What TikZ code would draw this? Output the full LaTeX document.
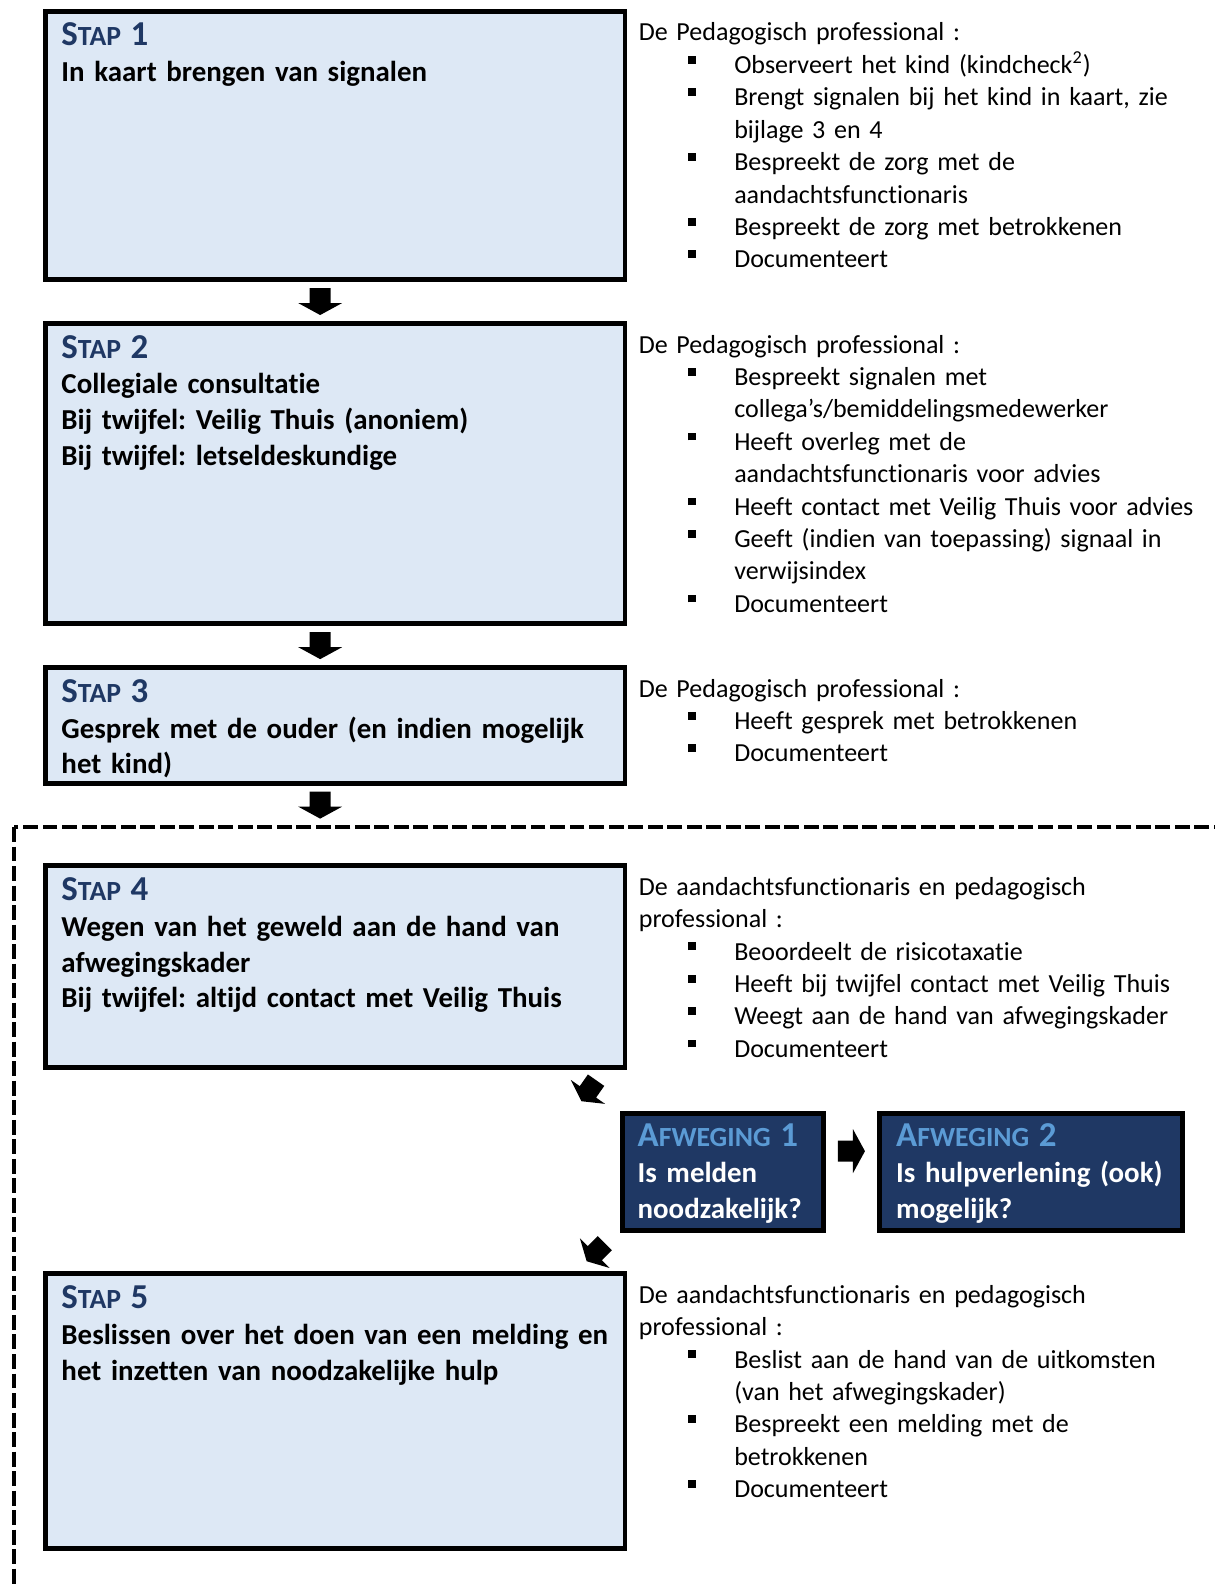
\documentclass[tikz,border=0pt]{standalone}
\usepackage{fontspec}
\setmainfont[Ligatures={TeX,NoCommon}]{Carlito}
\usetikzlibrary{positioning,calc}
\frenchspacing

\definecolor{vakblauw}{RGB}{221,232,245}
\definecolor{titelblauw}{RGB}{31,56,100}
\definecolor{donkerblauw}{RGB}{31,56,100}
\definecolor{lichtblauw}{RGB}{91,155,213}

% kopjes in kleinkapitaal
\newcommand{\stap}[1]{{\color{titelblauw}\fontsize{14.5}{14.9}\selectfont S{\fontsize{11.5}{14.9}\selectfont TAP} #1}}
\newcommand{\afw}[1]{{\color{lichtblauw}\fontsize{14.5}{14.9}\selectfont A{\fontsize{11.5}{14.9}\selectfont FWEGING} #1}}
% opsomming
\newcommand{\punt}{\hspace*{20.5pt}\raisebox{4.1pt}{\rule{3.2pt}{3.2pt}}\hspace*{15.9pt}}
\newcommand{\verder}{\hspace*{39.6pt}}

\tikzset{blokpijl/.pic={\fill (-10.5,-13.5) -- (10.5,-13.5) -- (10.5,1.5) -- (22,1.5) -- (0,13.5) -- (-22,1.5) -- (-10.5,1.5) -- cycle;}}

\begin{document}
\begin{tikzpicture}[x=0.415pt, y=-0.415pt]
    \tikzstyle{vak}=[draw, line width=2pt, fill=vakblauw, minimum width=240.5pt, inner sep=0pt]
    \tikzstyle{afweging}=[draw, line width=2pt, fill=donkerblauw, minimum height=48.6pt, inner sep=0pt]
    \tikzstyle{titel}=[anchor=base west, inner sep=0pt, text width=260pt, align=left, font=\bfseries\fontsize{12}{14.9}\selectfont]
    \tikzstyle{uitleg}=[anchor=base west, inner sep=0pt, text width=250pt, align=left, font=\fontsize{10.8}{13.45}\selectfont]
    \tikzstyle{kader}=[line width=1.4pt, dash pattern=on 6.2pt off 1.9pt]
    \useasboundingbox (0,0) rectangle (1215,1584);
    \begin{scope}
      \clip (0,0) rectangle (1215,1584);
      \draw[kader] (14,827) rectangle (1300,1700);
    \end{scope}

    % stappen
    \node[vak, minimum height=111.3pt, anchor=north west] (stap1) at (43,9) {};
    \node[vak, minimum height=124.6pt, below=16.2pt of stap1.south west, anchor=north west] (stap2) {};
    \node[vak, minimum height=48.2pt, below=16.2pt of stap2.south west, anchor=north west] (stap3) {};
    \node[vak, minimum height=83.9pt, below=32pt of stap3.south west, anchor=north west] (stap4) {};
    \node[afweging, minimum width=83.5pt, below=17pt of stap4.south east, anchor=north west, xshift=-3pt] (afw1) {};
    \node[afweging, minimum width=126pt, right=21pt of afw1] (afw2) {};
    \node[vak, minimum height=114.2pt, anchor=north west] (stap5) at ($(stap4.south west)+(0,201)$) {};

    \node[titel] (stap1tekst) at ($(stap1.north west)+(18,37)$) {\stap{1}\\In kaart brengen van signalen};
    \node[titel] (stap2tekst) at ($(stap2.north west)+(18,37)$) {\stap{2}\\Collegiale consultatie\\Bij twijfel: Veilig Thuis (anoniem)\\Bij twijfel: letseldeskundige};
    \node[titel] (stap3tekst) at ($(stap3.north west)+(18,37)$) {\stap{3}\\Gesprek met de ouder (en indien mogelijk\\het kind)};
    \node[titel] (stap4tekst) at ($(stap4.north west)+(18,37)$) {\stap{4}\\Wegen van het geweld aan de hand van\\afwegingskader\\Bij twijfel: altijd contact met Veilig Thuis};
    \node[titel] (stap5tekst) at ($(stap5.north west)+(18,37)$) {\stap{5}\\Beslissen over het doen van een melding en\\het inzetten van noodzakelijke hulp};
    \node[titel, text=white] (afw1tekst) at ($(afw1.north west)+(17,35)$) {\afw{1}\\Is melden\\noodzakelijk?};
    \node[titel, text=white] (afw2tekst) at ($(afw2.north west)+(19,35)$) {\afw{2}\\Is hulpverlening (ook)\\mogelijk?};

    % toelichting rechts
    \node[uitleg] (stap1uitleg) at ($(stap1.north east)+(11,32)$) {De Pedagogisch professional :\\
      \punt Observeert het kind (kindcheck\textsuperscript{2})\\
      \punt Brengt signalen bij het kind in kaart, zie\\
      \verder bijlage 3 en 4\\
      \punt Bespreekt de zorg met de\\
      \verder aandachtsfunctionaris\\
      \punt Bespreekt de zorg met betrokkenen\\
      \punt Documenteert};
    \node[uitleg] (stap2uitleg) at ($(stap2.north east)+(11,32)$) {De Pedagogisch professional :\\
      \punt Bespreekt signalen met\\
      \verder collega's/bemiddelingsmedewerker\\
      \punt Heeft overleg met de\\
      \verder aandachtsfunctionaris voor advies\\
      \punt Heeft contact met Veilig Thuis voor advies\\
      \punt Geeft (indien van toepassing) signaal in\\
      \verder verwijsindex\\
      \punt Documenteert};
    \node[uitleg] (stap3uitleg) at ($(stap3.north east)+(11,32)$) {De Pedagogisch professional :\\
      \punt Heeft gesprek met betrokkenen\\
      \punt Documenteert};
    \node[uitleg] (stap4uitleg) at ($(stap4.north east)+(11,32)$) {De aandachtsfunctionaris en pedagogisch\\
      professional :\\
      \punt Beoordeelt de risicotaxatie\\
      \punt Heeft bij twijfel contact met Veilig Thuis\\
      \punt Weegt aan de hand van afwegingskader\\
      \punt Documenteert};
    \node[uitleg] (stap5uitleg) at ($(stap5.north east)+(11,32)$) {De aandachtsfunctionaris en pedagogisch\\
      professional :\\
      \punt Beslist aan de hand van de uitkomsten\\
      \verder (van het afwegingskader)\\
      \punt Bespreekt een melding met de\\
      \verder betrokkenen\\
      \punt Documenteert};

    % pijlen
    \pic at ($(stap1.south)!.5!(stap2.north)+(-15,0)$) {blokpijl};
    \pic at ($(stap2.south)!.5!(stap3.north)+(-15,0)$) {blokpijl};
    \pic at ($(stap3.south)+(-15,19)$) {blokpijl};
    \pic[rotate=-35, scale=.95] at ($(stap4.south east)!.5!(afw1.north west)+(-35,0)$) {blokpijl};
    \pic[rotate=90] at ($(afw1.east)!.5!(afw2.west)+(0,-21)$) {blokpijl};
    \pic[rotate=-45, scale=.95] at ($(afw1.south west)!.5!(stap5.north east)+(-28,0)$) {blokpijl};
\end{tikzpicture}
\end{document}
